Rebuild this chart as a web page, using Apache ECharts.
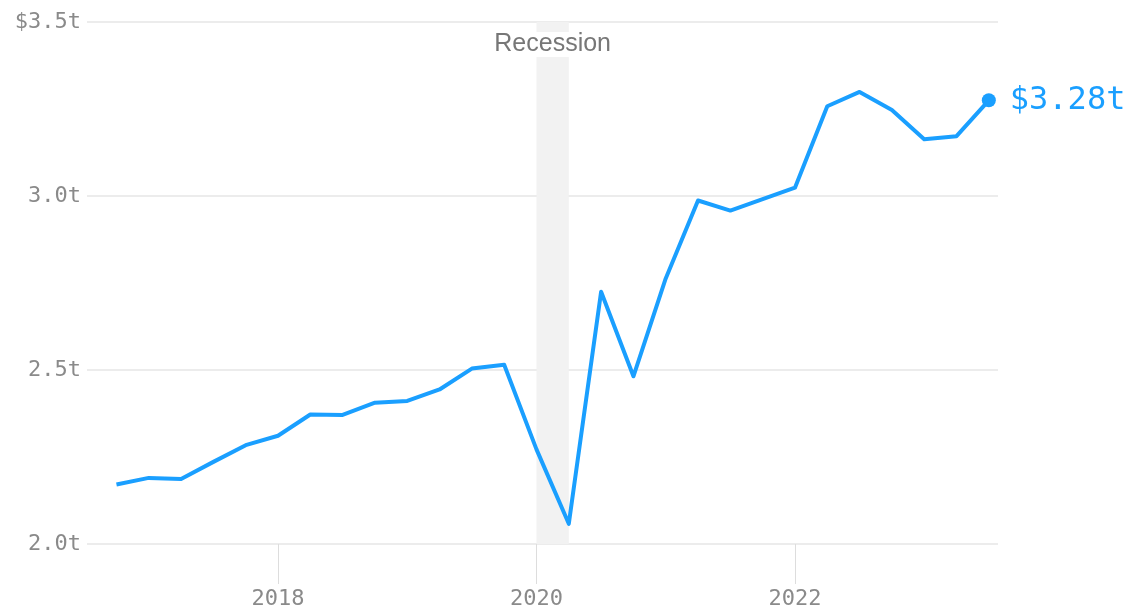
<!DOCTYPE html>
<html>
<head>
<meta charset="utf-8">
<script src="https://cdn.jsdelivr.net/npm/echarts@6/dist/echarts.min.js"></script>
<style>
html,body{margin:0;padding:0;background:#fff;}
#chart{width:1130px;height:610px;}
</style>
</head>
<body>
<div id="chart"></div>
<script>
// Quarter positions (decimal years) and values in trillions of dollars
var quarters = [2016.75, 2017.0, 2017.25, 2017.5, 2017.75, 2018.0, 2018.25, 2018.5, 2018.75,
  2019.0, 2019.25, 2019.5, 2019.75, 2020.0, 2020.25, 2020.5, 2020.75, 2021.0, 2021.25,
  2021.5, 2021.75, 2022.0, 2022.25, 2022.5, 2022.75, 2023.0, 2023.25, 2023.5];
var values = [2.171, 2.190, 2.187, 2.236, 2.284, 2.311, 2.372, 2.371, 2.406,
  2.411, 2.444, 2.504, 2.515, 2.272, 2.058, 2.725, 2.482, 2.763, 2.987,
  2.958, 2.991, 3.024, 3.258, 3.299, 3.247, 3.163, 3.172, 3.275];
var yearTicks = [2018, 2020, 2022];
var recession = [2020.0, 2020.25];
var recessionLabel = 'Recession';
var endLabel = '$3.28t';

var lineData = quarters.map(function (q, i) { return [q, values[i]]; });
var lastPoint = lineData[lineData.length - 1];

var blue = '#1a9fff';
var mono = '"DejaVu Sans Mono", "Liberation Mono", monospace';

var chart = echarts.init(document.getElementById('chart'));
chart.setOption({
  animation: false,
  grid: { left: 87, right: 132, top: 22, bottom: 63, containLabel: false },
  xAxis: {
    type: 'value',
    min: 2016.522,
    max: 2023.571,
    axisLine: { show: false },
    splitLine: { show: false },
    axisTick: { show: true, customValues: yearTicks, length: 40, lineStyle: { color: '#dddddd', width: 1 } },
    axisLabel: {
      customValues: yearTicks,
      margin: 44,
      color: '#8a8a8a',
      fontFamily: mono,
      fontSize: 22,
      formatter: function (v) { return String(v); }
    }
  },
  yAxis: {
    type: 'value',
    min: 2.0,
    max: 3.5,
    interval: 0.5,
    axisLine: { show: false },
    axisTick: { show: false },
    splitLine: { lineStyle: { color: '#e6e6e6', width: 1.5 } },
    axisLabel: {
      margin: 6,
      color: '#8a8a8a',
      fontFamily: mono,
      fontSize: 22,
      formatter: function (v) {
        var s = v.toFixed(1) + 't';
        return v === 3.5 ? '$' + s : s;
      }
    }
  },
  series: [
    {
      type: 'line',
      data: lineData,
      showSymbol: false,
      symbol: 'none',
      lineStyle: { color: blue, width: 4, join: 'round' },
      z: 3,
      markArea: {
        silent: true,
        itemStyle: { color: '#f2f2f2' },
        label: {
          show: true,
          position: 'insideTop',
          distance: 10,
          color: '#777777',
          fontFamily: '"Liberation Sans", Arial, sans-serif',
          fontSize: 25,
          backgroundColor: '#ffffff',
          padding: [0, 0]
        },
        data: [[{ xAxis: recession[0], name: recessionLabel }, { xAxis: recession[1] }]]
      }
    },
    {
      type: 'scatter',
      data: [lastPoint],
      symbol: 'circle',
      symbolSize: 14,
      itemStyle: { color: blue, opacity: 1 },
      z: 4,
      label: {
        show: true,
        position: 'right',
        distance: 14,
        color: blue,
        opacity: 1,
        fontFamily: mono,
        fontSize: 32,
        formatter: function () { return endLabel; }
      }
    }
  ]
});
</script>
</body>
</html>
